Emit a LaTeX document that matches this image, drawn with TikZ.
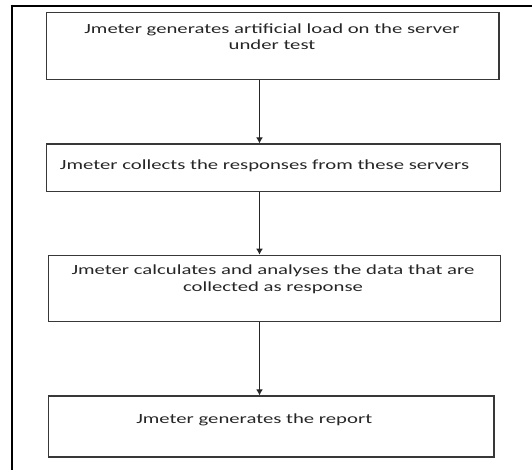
\documentclass[tikz,border=0pt]{standalone}
\usepackage{fontspec}
\setmainfont[FakeStretch=1.48]{Carlito}
\usetikzlibrary{positioning,arrows.meta}

\tikzset{
  stepbox/.style={draw=black!78, line width=1.3bp, inner sep=0pt},
  steptext/.style={align=center, inner sep=0pt, text=black!85,
    font=\fontsize{14bp}{16.5bp}\selectfont},
  flow/.style={draw=black!85, line width=1.3bp, -{Latex[length=6bp,width=7bp]}}
}

\begin{document}
\begin{tikzpicture}[x=1bp,y=-1bp]
        \useasboundingbox (0,0) rectangle (532,470);
        % frame left over from the page
        \draw[line width=2bp] (10.7,5.7) -- (532,5.7);
        \draw[line width=2bp] (11.7,4.7) -- (11.7,470);
        % the four steps
        \node[stepbox, minimum width=452.3bp, minimum height=66.6bp] (load) at (272.9,46.0) {};
        \node[stepbox, minimum width=454bp, minimum height=47.7bp] (collect) at (273.7,167.9) {};
        \node[stepbox, minimum width=452.4bp, minimum height=66.4bp] (analyse) at (274.5,288.5) {};
        \node[stepbox, minimum width=445.3bp, minimum height=61bp] (report) at (271.4,426.5) {};
        \node[steptext] (loadtext) at (272,36.5) {Jmeter generates artificial load on the server\\under test};
        \node[steptext] (collecttext) at (264.5,166) {Jmeter collects the responses from these servers};
        \node[steptext] (analysetext) at (273,279.5) {Jmeter calculates and analyses the data that are\\collected as response};
        \node[steptext] (reporttext) at (254.2,420) {Jmeter generates the report};
        % arrows
        \coordinate (axis) at (259.5,0);
        \draw[flow] (load.south -| axis) -- (collect.north -| axis);
        \draw[flow] (collect.south -| axis) -- (analyse.north -| axis);
        \draw[flow] (analyse.south -| axis) -- (report.north -| axis);
    \end{tikzpicture}
\end{document}
